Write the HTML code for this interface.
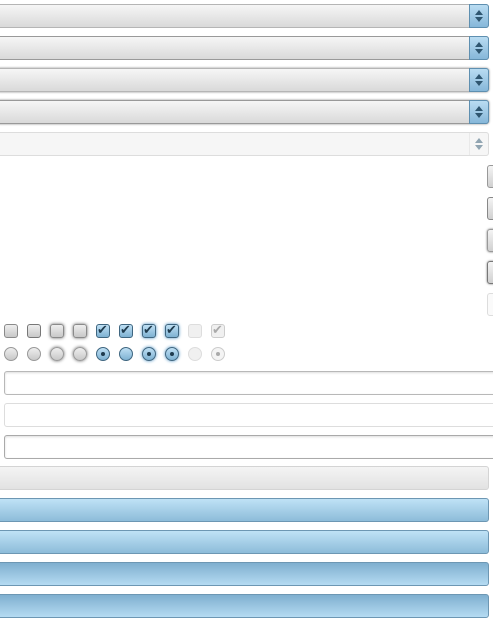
<!DOCTYPE html><html><head><style>
body{margin:0;width:493px;height:625px;background:#fff;position:relative;overflow:hidden;font-family:"Liberation Sans",sans-serif}
div{position:absolute;box-sizing:border-box}
.cb{left:-4px;width:493px;height:24px;border:1px solid #b5b5b5;border-radius:3px;background:linear-gradient(#f6f6f6,#d9d9d9)}
.ar{right:-1px;top:-1px;width:20px;height:24px;border:1px solid #5e8fb0;border-radius:0 3px 3px 0;background:linear-gradient(#b9dcf2,#86b7d9)}
.ar:before{content:"";position:absolute;left:5px;top:5px;border:4px solid transparent;border-bottom:5px solid #2f5670;border-top:0}
.ar:after{content:"";position:absolute;left:5px;top:12px;border:4px solid transparent;border-top:5px solid #2f5670;border-bottom:0}
.rb{left:487px;width:12px;height:23px;border:1px solid #999;border-radius:3px;background:linear-gradient(#f4f4f4,#d0d0d0)}
.ck{top:324px;width:14px;height:14px;border:1px solid #8a8a8a;border-radius:3px;background:linear-gradient(#eee,#c8c8c8)}
.ck.on{border-color:#3f6680;background:linear-gradient(#bfe0f4,#7eb1d2)}
.ck.on:after{content:"✔";position:absolute;left:0;top:-3px;font-size:13px;color:#1f3b4e}
.ck.dis:after{color:#aaa}
.rd{top:347px;width:14px;height:14px;border:1px solid #999;border-radius:50%;background:linear-gradient(#eee,#c8c8c8)}
.rd.on{border-color:#3f6680;background:linear-gradient(#bfe0f4,#7eb1d2)}
.rd.dot:after{content:"";position:absolute;left:4px;top:4px;width:4px;height:4px;border-radius:50%;background:#1f3b4e}
.rd.dis:after{background:#aaa}
.tf{left:4px;width:495px;height:24px;border:1px solid #b8b8b8;border-radius:3px;background:#fff;box-shadow:inset 0 1px 2px #ddd}
.bar{left:-4px;width:493px;height:24px;border:1px solid #6d97b3;border-radius:3px;background:linear-gradient(#bfe2f6,#8dbcd9)}
</style></head><body>
<div class="cb" style="top:4px"><div class="ar"></div></div>
<div class="cb" style="top:36px;border-color:#999"><div class="ar"></div></div>
<div class="cb" style="top:68px;box-shadow:0 0 2px #888"><div class="ar"></div></div>
<div class="cb" style="top:100px;border-color:#999;box-shadow:0 0 2px #888"><div class="ar"></div></div>
<div class="cb" style="top:132px;border-color:#ddd;background:#f6f6f6"><div class="ar" style="border-color:#ddd;background:#f6f6f6;opacity:.5"></div></div>
<div class="rb" style="top:165px"></div>
<div class="rb" style="top:197px;border-color:#888"></div>
<div class="rb" style="top:229px;box-shadow:0 0 2px #777"></div>
<div class="rb" style="top:261px;border-color:#777;box-shadow:0 0 2px #777"></div>
<div class="rb" style="top:293px;border-color:#ddd;background:#fafafa"></div>
<div class="ck" style="left:4px"></div>
<div class="ck" style="left:27px;border-color:#777"></div>
<div class="ck" style="left:50px;box-shadow:0 0 3px #666"></div>
<div class="ck" style="left:73px;box-shadow:0 0 3px #666"></div>
<div class="ck on" style="left:96px"></div>
<div class="ck on" style="left:119px"></div>
<div class="ck on" style="left:142px;box-shadow:0 0 3px #4a8fc0"></div>
<div class="ck on" style="left:165px;box-shadow:0 0 3px #4a8fc0"></div>
<div class="ck" style="left:188px;border-color:#ddd;background:#f0f0f0"></div>
<div class="ck on dis" style="left:211px;border-color:#ccc;background:#f0f0f0"></div>
<div class="rd" style="left:4px"></div>
<div class="rd" style="left:27px"></div>
<div class="rd" style="left:50px;box-shadow:0 0 3px #666"></div>
<div class="rd" style="left:73px;box-shadow:0 0 3px #666"></div>
<div class="rd on dot" style="left:96px"></div>
<div class="rd on" style="left:119px"></div>
<div class="rd on dot" style="left:142px;box-shadow:0 0 3px #4a8fc0"></div>
<div class="rd on dot" style="left:165px;box-shadow:0 0 3px #4a8fc0"></div>
<div class="rd" style="left:188px;border-color:#ddd;background:#f0f0f0"></div>
<div class="rd dot dis" style="left:211px;border-color:#ccc;background:#f4f4f4"></div>
<div class="tf" style="top:371px"></div>
<div class="tf" style="top:403px;border-color:#ddd;box-shadow:none"></div>
<div class="tf" style="top:435px;border-color:#aaa"></div>
<div class="bar" style="top:466px;border-color:#d4d4d4;background:linear-gradient(#f4f4f4,#e2e2e2)"></div>
<div class="bar" style="top:498px"></div>
<div class="bar" style="top:530px"></div>
<div class="bar" style="top:562px;background:linear-gradient(#7fafcf,#b5dbf2)"></div>
<div class="bar" style="top:594px;background:linear-gradient(#7fafcf,#b5dbf2)"></div>
</body></html>
